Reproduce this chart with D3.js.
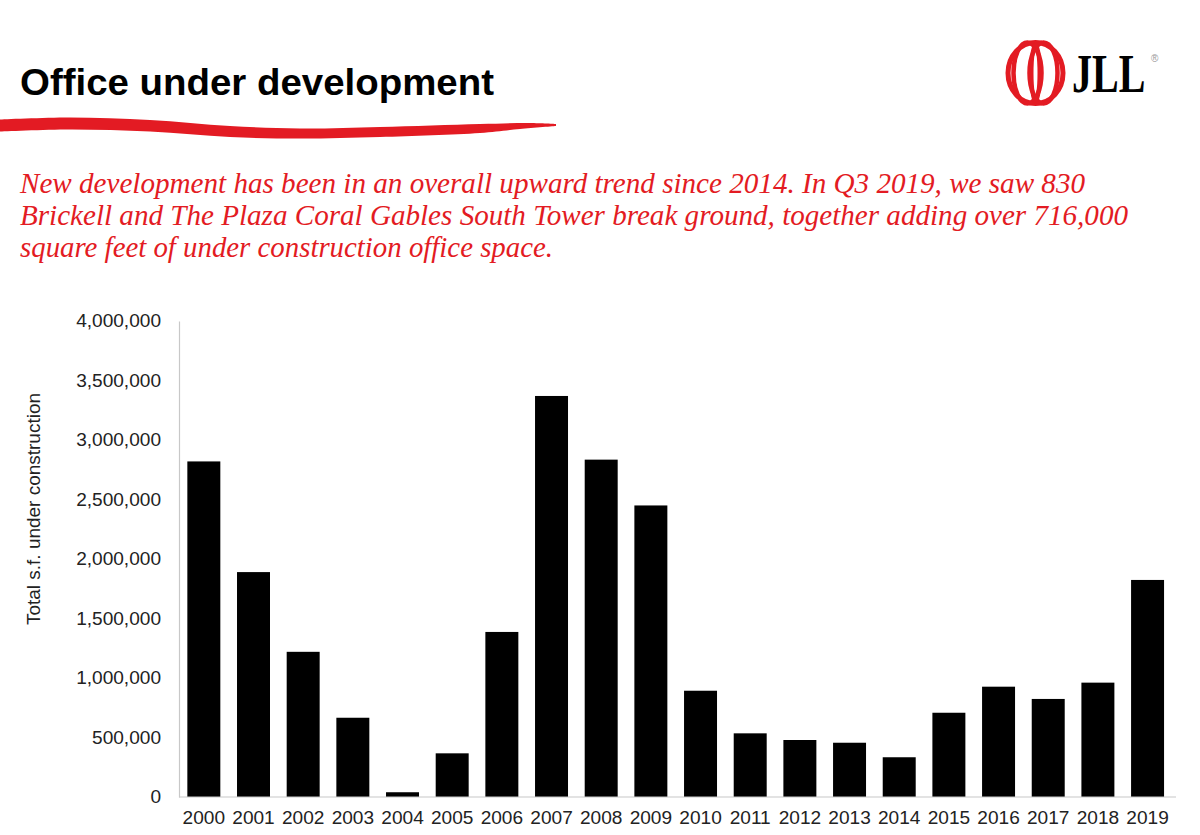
<!DOCTYPE html>
<html>
<head>
<meta charset="utf-8">
<script src="https://cdn.jsdelivr.net/npm/d3@7"></script>
<style>
  html, body { margin: 0; padding: 0; background: #fff; }
  svg { display: block; }
</style>
</head>
<body>
<svg id="chart" width="1200" height="835"></svg>
<script>
// ---- data ----
const years = ['2000','2001','2002','2003','2004','2005','2006','2007','2008','2009',
               '2010','2011','2012','2013','2014','2015','2016','2017','2018','2019'];
const sqft = [2820000, 1890000, 1220000, 666000, 40000, 367000, 1387000, 3370000, 2835000, 2450000,
              893000, 535000, 479000, 456000, 334000, 708000, 927000, 824000, 961000, 1824000];
const yTickValues = [0, 500000, 1000000, 1500000, 2000000, 2500000, 3000000, 3500000, 4000000];
const titleText = 'Office under development';
const subtitleLines = [
  'New development has been in an overall upward trend since 2014. In Q3 2019, we saw 830',
  'Brickell and The Plaza Coral Gables South Tower break ground, together adding over 716,000',
  'square feet of under construction office space.'
];
const yAxisTitle = 'Total s.f. under construction';

// ---- setup ----
const svg = d3.select('#chart');
const SANS = '"Liberation Sans", Arial, sans-serif';
const SERIF = '"Liberation Serif", "Times New Roman", serif';
const RED = '#e31b23';

function stretch(sel, factor) {
  sel.each(function() {
    const len = this.getComputedTextLength();
    d3.select(this).attr('textLength', len * factor).attr('lengthAdjust', 'spacingAndGlyphs');
  });
}

// ---- header ----
svg.append('text')
  .attr('x', 20).attr('y', 95)
  .attr('font-family', SANS).attr('font-weight', 'bold').attr('font-size', 36)
  .attr('fill', '#000')
  .attr('textLength', 474).attr('lengthAdjust', 'spacingAndGlyphs')
  .text(titleText);

// red brush stroke
const strokeTop = [[0,119.5],[70,117.5],[150,120],[230,126],[300,128.5],[380,127],[480,124],[530,123],[556,124]];
const strokeBot = [[556,126],[520,129],[480,133],[380,137],[300,138.5],[230,137],[150,131.5],[70,129.5],[0,131.5]];
svg.append('path')
  .attr('d', d3.line().curve(d3.curveCatmullRom)(strokeTop) + 'L' + d3.line().curve(d3.curveCatmullRom)(strokeBot).slice(1) + 'Z')
  .attr('fill', RED);

// subtitle
const lineEnds = [1085, 1128, 553];
svg.append('g').selectAll('text')
  .data(subtitleLines)
  .join('text')
  .attr('x', 20)
  .attr('y', (d, i) => 193 + i * 32)
  .attr('font-family', SERIF).attr('font-style', 'italic').attr('font-size', 30)
  .attr('fill', RED)
  .attr('textLength', (d, i) => lineEnds[i] - 20)
  .attr('lengthAdjust', 'spacingAndGlyphs')
  .text(d => d);

// JLL logo
const logo = svg.append('g').attr('transform', 'translate(1035.5,73)');
logo.append('ellipse').attr('rx', 27.5).attr('ry', 30.5)
  .attr('fill', 'none').attr('stroke', RED).attr('stroke-width', 5);
[-8, 8].forEach(dx => {
  logo.append('ellipse').attr('cx', dx).attr('rx', 14).attr('ry', 30.5)
    .attr('fill', 'none').attr('stroke', RED).attr('stroke-width', 4.5);
});
logo.append('ellipse').attr('cx', 0).attr('rx', 4).attr('ry', 28)
  .attr('fill', 'none').attr('stroke', RED).attr('stroke-width', 4);
svg.append('text')
  .attr('transform', 'translate(1072,92) scale(1,1.38)')
  .attr('font-family', SERIF).attr('font-weight', 'bold').attr('font-size', 40)
  .attr('fill', '#000')
  .text('JLL');
svg.append('text')
  .attr('x', 1151).attr('y', 62)
  .attr('font-family', SANS).attr('font-size', 10)
  .attr('fill', '#999')
  .text('®');

// ---- chart ----
const plot = { left: 179, right: 1172.4, top: 321, bottom: 797 };

const x = d3.scaleBand()
  .domain(years)
  .range([plot.left, plot.right])
  .paddingInner(0.336)
  .paddingOuter(0.168);

const y = d3.scaleLinear()
  .domain([0, 4000000])
  .range([plot.bottom, plot.top]);

svg.append('g').selectAll('rect')
  .data(years.map((yr, i) => ({ yr, v: sqft[i] })))
  .join('rect')
  .attr('x', d => x(d.yr))
  .attr('width', x.bandwidth())
  .attr('y', d => y(d.v))
  .attr('height', d => y(0) - y(d.v))
  .attr('fill', '#000');

// y axis
const yAxis = svg.append('g')
  .attr('transform', `translate(${plot.left},0)`)
  .call(d3.axisLeft(y).tickValues(yTickValues).tickSize(0).tickPadding(18)
        .tickFormat(d3.format(',')));
yAxis.select('.domain').attr('stroke', '#c8c8c8').attr('stroke-width', 1.2);
yAxis.selectAll('text')
  .attr('font-family', SANS).attr('font-size', 18).attr('fill', '#222');
stretch(yAxis.selectAll('text'), 1.06);

// x axis
const xAxis = svg.append('g')
  .attr('transform', `translate(0,${plot.bottom})`)
  .call(d3.axisBottom(x).tickSize(0).tickPadding(14));
xAxis.select('.domain').attr('stroke', '#c8c8c8').attr('stroke-width', 1.2)
  .attr('d', `M${plot.left},0H1176`);
xAxis.selectAll('text')
  .attr('font-family', SANS).attr('font-size', 18).attr('fill', '#222');
stretch(xAxis.selectAll('text'), 1.06);

// y axis title
svg.append('text')
  .attr('transform', 'translate(34,509) rotate(-90)')
  .attr('text-anchor', 'middle')
  .attr('dominant-baseline', 'central')
  .attr('font-family', SANS).attr('font-size', 18).attr('fill', '#222')
  .attr('textLength', 232).attr('lengthAdjust', 'spacingAndGlyphs')
  .text(yAxisTitle);
</script>
</body>
</html>
